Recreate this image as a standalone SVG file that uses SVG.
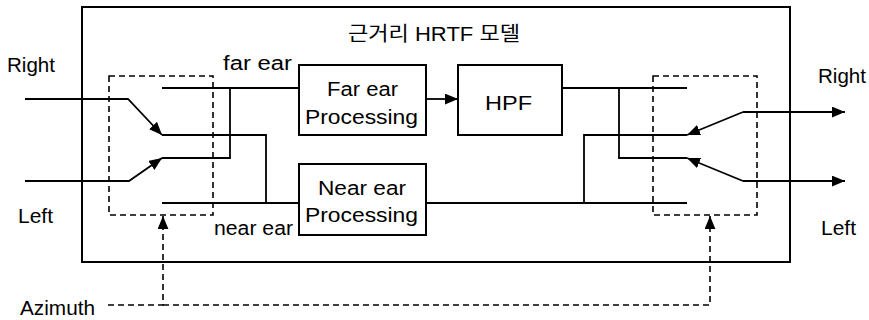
<svg xmlns="http://www.w3.org/2000/svg" width="869" height="320" viewBox="0 0 869 320">
  <style>
    .box { fill: #fff; stroke: #000; stroke-width: 2; }
    .frame { fill: none; stroke: #000; stroke-width: 2; }
    .wire { fill: none; stroke: #000; stroke-width: 1.8; }
    .dash { fill: none; stroke: #000; stroke-width: 1.6; stroke-dasharray: 6 4; }
    .lbl { font-family: "Liberation Sans", Arial, sans-serif; font-size: 20px; fill: #000; }
    .title { font-family: "Liberation Sans", "Noto Sans CJK KR", sans-serif; font-size: 20px; fill: #000; }
  </style>
  <defs>
    <marker id="ah" viewBox="0 0 12 10" refX="12" refY="5" markerWidth="13" markerHeight="11" markerUnits="userSpaceOnUse" orient="auto">
      <path d="M0,0 L12,5 L0,10 Z" fill="#000"/>
    </marker>
  </defs>

  <!-- enclosing model frame -->
  <g id="model">
    <rect class="frame" x="82" y="7" width="708" height="255"/>
    <text class="title" x="348" y="41" textLength="172" lengthAdjust="spacingAndGlyphs">근거리 HRTF 모델</text>
  </g>

  <!-- input switch -->
  <g id="switch-in">
    <rect class="dash" x="109" y="76" width="104" height="139"/>
  </g>

  <!-- output switch -->
  <g id="switch-out">
    <rect class="dash" x="653" y="76" width="104" height="139"/>
  </g>

  <g id="far-ear-proc">
    <rect class="box" x="299" y="65" width="127" height="70"/>
    <text class="lbl" x="327" y="96" textLength="71" lengthAdjust="spacingAndGlyphs">Far ear</text>
    <text class="lbl" x="305" y="124" textLength="113" lengthAdjust="spacingAndGlyphs">Processing</text>
  </g>

  <g id="hpf">
    <rect class="box" x="458" y="65" width="104" height="70"/>
    <text class="lbl" x="485" y="110" font-size="24" textLength="47" lengthAdjust="spacingAndGlyphs">HPF</text>
  </g>

  <g id="near-ear-proc">
    <rect class="box" x="299" y="164" width="127" height="71"/>
    <text class="lbl" x="318" y="195" textLength="88" lengthAdjust="spacingAndGlyphs">Near ear</text>
    <text class="lbl" x="305" y="222" textLength="113" lengthAdjust="spacingAndGlyphs">Processing</text>
  </g>

  <!-- labels -->
  <g id="labels">
    <text class="lbl" x="7" y="72" textLength="48" lengthAdjust="spacingAndGlyphs">Right</text>
    <text class="lbl" x="18" y="223" textLength="35" lengthAdjust="spacingAndGlyphs">Left</text>
    <text class="lbl" x="20" y="315" textLength="75" lengthAdjust="spacingAndGlyphs">Azimuth</text>
    <text class="lbl" x="223" y="70" textLength="69" lengthAdjust="spacingAndGlyphs">far ear</text>
    <text class="lbl" x="214" y="235" textLength="79" lengthAdjust="spacingAndGlyphs">near ear</text>
    <text class="lbl" x="818" y="83" textLength="48" lengthAdjust="spacingAndGlyphs">Right</text>
    <text class="lbl" x="821" y="235" textLength="35" lengthAdjust="spacingAndGlyphs">Left</text>
  </g>

  <g id="connectors">
    <!-- inputs into the switch -->
    <polyline class="wire" points="25,99 128,99 162,135" marker-end="url(#ah)"/>
    <polyline class="wire" points="25,181 129,181 162,158" marker-end="url(#ah)"/>
    <!-- switch contacts -->
    <polyline class="wire" points="162,88 299,88"/>
    <polyline class="wire" points="162,158 230,158 230,88"/>
    <polyline class="wire" points="162,135 266,135 266,203"/>
    <polyline class="wire" points="162,203 299,203"/>
    <!-- far ear to HPF -->
    <line class="wire" x1="426" y1="99" x2="458" y2="99" marker-end="url(#ah)"/>
    <!-- outputs to the second switch -->
    <polyline class="wire" points="562,88 687,88"/>
    <polyline class="wire" points="619,88 619,158 687,158"/>
    <polyline class="wire" points="426,203 687,203"/>
    <polyline class="wire" points="584,203 584,135 687,135"/>
    <line class="wire" x1="743" y1="112" x2="687" y2="135" marker-end="url(#ah)"/>
    <line class="wire" x1="743" y1="181" x2="687" y2="158" marker-end="url(#ah)"/>
    <line class="wire" x1="743" y1="112" x2="845" y2="112" marker-end="url(#ah)"/>
    <line class="wire" x1="743" y1="181" x2="845" y2="181" marker-end="url(#ah)"/>
    <!-- azimuth control -->
    <polyline class="dash" points="108,305 163,305 163,216" marker-end="url(#ah)"/>
    <polyline class="dash" points="163,305 710,305 710,216" marker-end="url(#ah)"/>
  </g>
</svg>
